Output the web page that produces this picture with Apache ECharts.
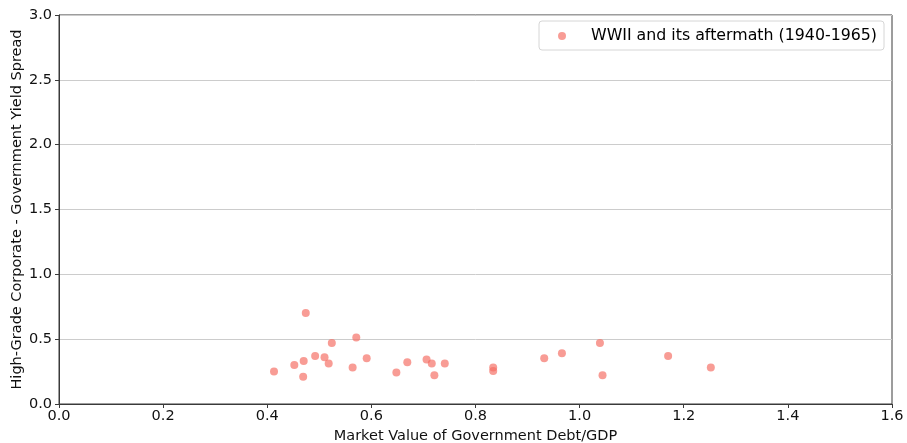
<!DOCTYPE html>
<html>
<head>
<meta charset="utf-8">
<script src="https://cdn.jsdelivr.net/npm/echarts@6/dist/echarts.min.js"></script>
<style>html,body{margin:0;padding:0;background:#fff}#c{width:907px;height:443px}</style>
</head>
<body>
<div id="c"></div>
<script>
var seriesName = 'WWII and its aftermath (1940-1965)';
var debtGdp = [0.413,0.452,0.469,0.470,0.474,0.492,0.510,0.518,0.524,0.564,0.571,0.591,0.648,0.669,0.706,0.716,0.721,0.741,0.834,0.834,0.932,0.966,1.039,1.044,1.170,1.252];
var spread  = [0.250,0.301,0.211,0.332,0.702,0.370,0.360,0.312,0.471,0.281,0.512,0.353,0.242,0.322,0.343,0.312,0.221,0.312,0.281,0.255,0.353,0.391,0.471,0.221,0.370,0.281];
var xTitle = 'Market Value of Government Debt/GDP';
var yTitle = 'High-Grade Corporate - Government Yield Spread';

var pts = debtGdp.map(function(x,i){return [x, spread[i]];});
var font = 'DejaVu Sans';
var chart = echarts.init(document.getElementById('c'), null, {renderer:'canvas'});
chart.setOption({
  animation:false,
  backgroundColor:'#fff',
  textStyle:{fontFamily:font},
  grid:{left:59,right:15,top:15,bottom:39,containLabel:false,outerBoundsMode:'none',show:true,borderColor:'#3a3a3a',borderWidth:1,backgroundColor:'transparent'},
  legend:{
    data:[seriesName], right:23, top:21, orient:'vertical',
    backgroundColor:'#fff', borderColor:'#d6d6d6', borderWidth:1, borderRadius:3,
    padding:[6,7,5,19], itemWidth:8, itemHeight:8, icon:'circle',
    textStyle:{fontFamily:font,fontSize:15.8,lineHeight:18,color:'#000',padding:[0,0,0,20]}
  },
  xAxis:{
    type:'value', min:0, max:1.6, interval:0.2,
    name:xTitle, nameLocation:'middle', nameGap:22,
    nameTextStyle:{fontFamily:font,fontSize:14.5,color:'#111'},
    axisLine:{show:true,onZero:false,lineStyle:{color:'#3a3a3a',width:1}},
    axisTick:{show:true,length:4,lineStyle:{color:'#3a3a3a'}},
    axisLabel:{fontFamily:font,fontSize:14.5,color:'#111',margin:5,formatter:function(v){return v.toFixed(1);}},
    splitLine:{show:false}
  },
  yAxis:{
    type:'value', min:0, max:3, interval:0.5,
    name:yTitle, nameLocation:'middle', nameGap:34, nameMoveOverlap:false,
    nameTextStyle:{fontFamily:font,fontSize:14.5,color:'#111'},
    axisLine:{show:true,onZero:false,lineStyle:{color:'#3a3a3a',width:1}},
    axisTick:{show:true,length:4,lineStyle:{color:'#3a3a3a'}},
    axisLabel:{fontFamily:font,fontSize:14.5,color:'#111',margin:7,formatter:function(v){return v.toFixed(1);}},
    splitLine:{show:true,lineStyle:{color:'#cccccc',width:1}}
  },
  series:[{
    name:seriesName, type:'scatter', data:pts, symbol:'circle', symbolSize:8,
    itemStyle:{color:'rgba(245,110,100,0.85)'}
  }]
});
</script>
</body>
</html>
